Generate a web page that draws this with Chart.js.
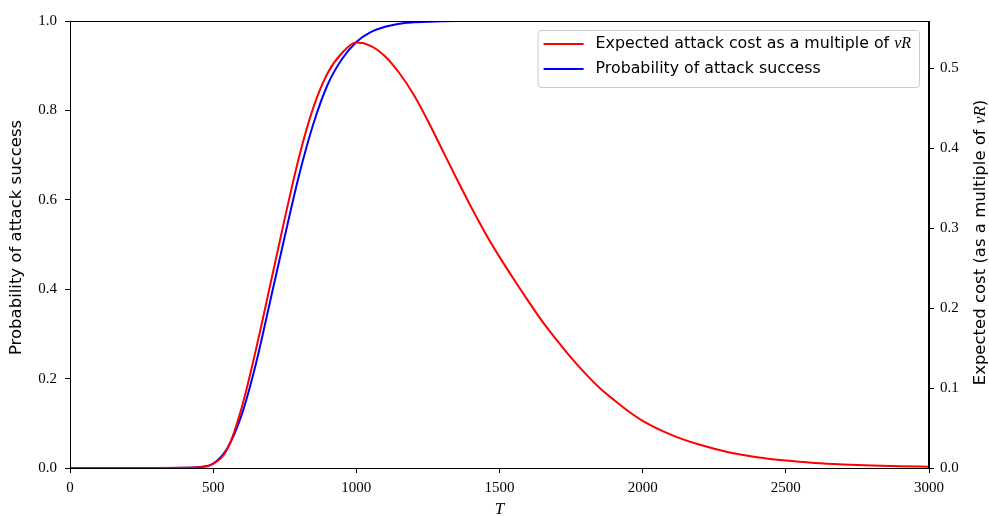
<!DOCTYPE html>
<html>
<head>
<meta charset="utf-8">
<script src="https://cdn.jsdelivr.net/npm/chart.js@4.4.1/dist/chart.umd.min.js"></script>
<style>
  html, body { margin: 0; padding: 0; background: #fff; }
  #wrap { width: 989px; height: 516px; position: relative; }
</style>
</head>
<body>
<div id="wrap"><canvas id="attackChart"></canvas></div>
<script>
// T values (x axis)
const tValues = [0, 100, 200, 300, 400, 450, 500, 550, 600, 650, 700, 750, 800, 850, 900, 950,
    1000, 1050, 1100, 1150, 1200, 1250, 1300, 1350, 1400, 1450, 1500, 1550, 1600, 1650, 1700,
    1750, 1800, 1850, 1900, 1950, 2000, 2100, 2200, 2300, 2400, 2500, 2600, 2700, 2800, 2900, 3000];

// probability of attack success (left axis)
const successProb = [0, 0, 0, 0, 0.0004, 0.002, 0.01, 0.045, 0.12, 0.235, 0.376, 0.518, 0.655, 0.77, 0.858, 0.915,
    0.953, 0.975, 0.987, 0.994, 0.997, 0.9985, 0.9994, 0.9998, 1, 1, 1, 1, 1, 1, 1,
    1, 1, 1, 1, 1, 1, 1, 1, 1, 1, 1, 1, 1, 1, 1, 1];

// expected attack cost as a multiple of vR (right axis)
const attackCost = [0, 0, 0, 0, 0.0002, 0.0008, 0.005, 0.024, 0.076, 0.149, 0.23, 0.312, 0.389, 0.451, 0.494, 0.519,
    0.532, 0.528, 0.515, 0.494, 0.467, 0.434, 0.398, 0.362, 0.327, 0.294, 0.264, 0.236, 0.209, 0.183, 0.16,
    0.138, 0.118, 0.1, 0.085, 0.071, 0.059, 0.0415, 0.029, 0.0198, 0.0135, 0.0093, 0.0064, 0.0045, 0.0032, 0.0023, 0.0016];

const xTicks = [0, 500, 1000, 1500, 2000, 2500, 3000];

const serif = "'Liberation Serif', 'DejaVu Serif', serif";
const sans = "'DejaVu Sans', 'Noto Sans', sans-serif";

// draw rotated text (bottom to top), parts = [[text, font], ...]
function drawVertical(ctx, parts, cx, cy) {
    let total = 0;
    parts.forEach(p => { ctx.font = p[1]; total += ctx.measureText(p[0]).width; });
    ctx.save();
    ctx.fillStyle = '#000';
    ctx.textBaseline = 'middle';
    ctx.translate(cx, cy);
    ctx.rotate(-Math.PI / 2);
    let x = -total / 2;
    parts.forEach(p => {
        ctx.font = p[1];
        ctx.fillText(p[0], x, 0);
        x += ctx.measureText(p[0]).width;
    });
    ctx.restore();
}

// frame around the plot area + axis titles
const framePlugin = {
    id: 'frame',
    afterDatasetsDraw(chart) {
        const a = chart.chartArea;
        const ctx = chart.ctx;
        ctx.save();
        ctx.strokeStyle = '#000';
        ctx.lineWidth = 1;
        ctx.strokeRect(a.left + 0.5, a.top + 0.5, a.right - a.left - 1, a.bottom - a.top);
        ctx.restore();
    },
    afterDraw(chart) {
        const a = chart.chartArea;
        const ctx = chart.ctx;
        const f = '16.5px ' + sans;
        const fi = 'italic 17px ' + serif;
        drawVertical(ctx, [['Probability of attack success', f]], 17, (a.top + a.bottom) / 2 - 7);
        drawVertical(ctx, [['Expected cost (as a multiple of ', f], ['vR', fi], [')', f]], chart.width - 8, (a.top + a.bottom) / 2 - 2);
    }
};

// matplotlib-like legend in the upper right corner
const legendPlugin = {
    id: 'mplLegend',
    afterDraw(chart) {
        const ctx = chart.ctx;
        const a = chart.chartArea;
        const fs = '15.8px ' + sans;
        const fi = 'italic 16px ' + serif;
        ctx.save();
        const items = chart.data.datasets.map(ds => ({ label: ds.label, color: ds.borderColor, suffix: ds.labelSuffix }));
        let maxW = 0;
        items.forEach(it => {
            ctx.font = fs;
            let w = ctx.measureText(it.label).width;
            if (it.suffix) {
                ctx.font = fi;
                w += ctx.measureText(it.suffix).width;
            }
            maxW = Math.max(maxW, w);
        });
        const boxW = 58 + maxW + 8;
        const boxH = 57;
        const x0 = a.right - 10 - boxW;
        const y0 = a.top + 9;
        ctx.fillStyle = 'rgba(255,255,255,0.8)';
        ctx.strokeStyle = '#cccccc';
        ctx.lineWidth = 1;
        ctx.beginPath();
        ctx.roundRect(x0 + 0.5, y0 + 0.5, boxW, boxH, 3);
        ctx.fill();
        ctx.stroke();
        items.forEach((it, i) => {
            const y = y0 + 14 + i * 25;
            ctx.strokeStyle = it.color;
            ctx.lineWidth = 2;
            ctx.beginPath();
            ctx.moveTo(x0 + 6, y);
            ctx.lineTo(x0 + 46, y);
            ctx.stroke();
            ctx.fillStyle = '#000';
            ctx.textBaseline = 'middle';
            ctx.font = fs;
            ctx.fillText(it.label, x0 + 58, y);
            if (it.suffix) {
                const w = ctx.measureText(it.label).width;
                ctx.font = fi;
                ctx.fillText(it.suffix, x0 + 58 + w, y);
            }
        });
        ctx.restore();
    }
};

const ctx = document.getElementById('attackChart').getContext('2d');
const attackChart = new Chart(ctx, {
    type: 'line',
    data: {
        datasets: [
            {
                label: 'Expected attack cost as a multiple of ',
                labelSuffix: 'vR',
                data: tValues.map((t, i) => ({ x: t, y: attackCost[i] })),
                borderColor: '#ff0000',
                borderWidth: 2,
                pointRadius: 0,
                cubicInterpolationMode: 'monotone',
                yAxisID: 'yCost',
                order: 0
            },
            {
                label: 'Probability of attack success',
                data: tValues.map((t, i) => ({ x: t, y: successProb[i] })),
                borderColor: '#0000ff',
                borderWidth: 2,
                pointRadius: 0,
                cubicInterpolationMode: 'monotone',
                yAxisID: 'yProb',
                order: 1
            }
        ]
    },
    options: {
        responsive: true,
        maintainAspectRatio: false,
        animation: false,
        layout: { padding: { top: 21, left: 0, right: 0, bottom: 0 } },
        plugins: {
            legend: { display: false },
            tooltip: { enabled: false }
        },
        scales: {
            x: {
                type: 'linear',
                min: 0,
                max: 3000,
                afterBuildTicks: scale => { scale.ticks = xTicks.map(v => ({ value: v })); },
                afterFit: scale => { scale.height = 48; },
                grid: { drawOnChartArea: false, tickLength: 5, color: '#000' },
                border: { color: '#000' },
                ticks: { color: '#000', font: { family: serif, size: 15 }, padding: 6, maxRotation: 0, callback: v => String(v) },
                title: { display: true, text: 'T', color: '#000', font: { family: serif, size: 17, style: 'italic', lineHeight: 0.8 }, padding: { top: 0, bottom: 0 } }
            },
            yProb: {
                position: 'left',
                min: 0,
                max: 1,
                afterFit: scale => { scale.width = 70; },
                grid: { drawOnChartArea: false, tickLength: 5, color: '#000' },
                border: { color: '#000' },
                ticks: { stepSize: 0.2, color: '#000', font: { family: serif, size: 15 }, padding: 8, callback: v => v.toFixed(1) },
                title: { display: false }
            },
            yCost: {
                position: 'right',
                min: 0,
                max: 0.559,
                afterFit: scale => { scale.width = 60; },
                grid: { drawOnChartArea: false, tickLength: 5, color: '#000' },
                border: { color: '#000' },
                ticks: { stepSize: 0.1, includeBounds: false, color: '#000', font: { family: serif, size: 15 }, padding: 6, callback: v => v.toFixed(1) },
                title: { display: false }
            }
        }
    },
    plugins: [framePlugin, legendPlugin]
});
</script>
</body>
</html>
